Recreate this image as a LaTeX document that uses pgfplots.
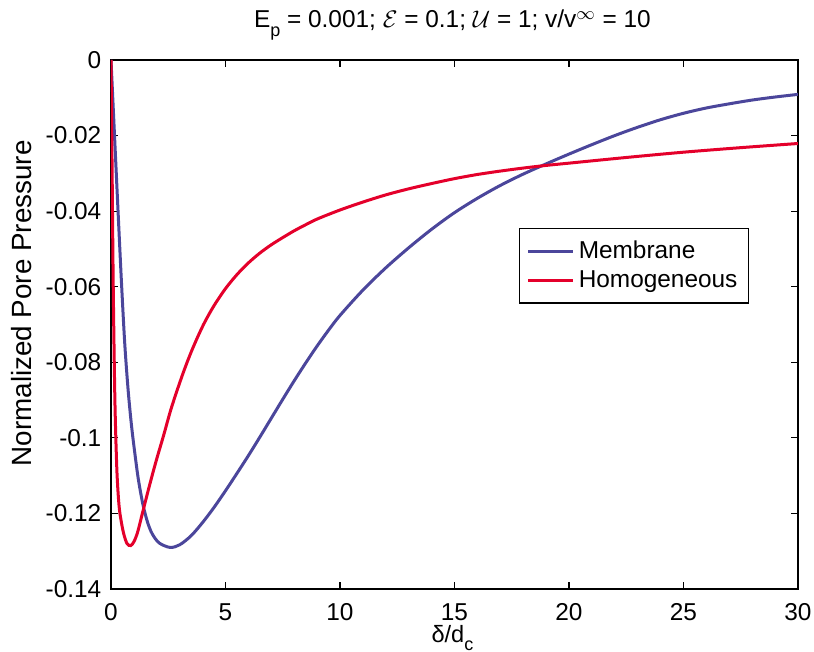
\documentclass[border=0pt]{standalone}
\usepackage{pgfplots}
\pgfplotsset{compat=1.18}
\usepackage{fontspec}
\setmainfont{Liberation Sans}
\definecolor{memb}{RGB}{75,70,155}
\definecolor{homo}{RGB}{228,0,43}
\newcommand{\lowsub}[2]{\raisebox{#1}{\fontsize{9pt}{9pt}\selectfont #2}}
\pgfplotstableread{
x y
0 0
0.15 -0.0195
0.3 -0.039
0.45 -0.058
0.6 -0.075
0.75 -0.0875
0.9 -0.097
1.05 -0.1045
1.2 -0.1112
1.4 -0.1178
1.6 -0.1224
1.8 -0.1254
2.1 -0.1278
2.58 -0.129
3.0 -0.1283
3.5 -0.1259
4.0 -0.1224
4.5 -0.1184
5.0 -0.114
5.5 -0.1094
6.0 -0.1047
6.5 -0.0998
7.0 -0.0948
7.5 -0.0898
8.0 -0.0849
8.5 -0.0802
9.0 -0.0757
9.5 -0.0715
10 -0.0676
11 -0.0609
12 -0.0550
13 -0.0497
14 -0.0448
15 -0.0404
16 -0.0366
17 -0.0332
18 -0.0302
19 -0.0275
20 -0.0249
21 -0.0224
22 -0.0200
23 -0.0178
24 -0.0158
25 -0.0141
26 -0.0127
27 -0.0116
28 -0.0106
29 -0.0098
30 -0.0091
}\membrane
\pgfplotstableread{
x y
0 0
0.05 -0.03
0.1 -0.061
0.17 -0.09
0.25 -0.1075
0.32 -0.1155
0.39 -0.12
0.54 -0.125
0.7 -0.128
0.86 -0.1285
1.0 -0.1275
1.16 -0.125
1.37 -0.12
1.6 -0.1145
1.8 -0.1099
2.0 -0.1055
2.3 -0.0993
2.6 -0.0928
2.9 -0.0872
3.2 -0.082
3.5 -0.0773
3.8 -0.0731
4.1 -0.0693
4.5 -0.0650
5.0 -0.0605
5.5 -0.0568
6.0 -0.0537
6.5 -0.0511
7.0 -0.0489
7.5 -0.0470
8.0 -0.0452
8.5 -0.0436
9 -0.0421
10 -0.0397
11 -0.0376
12 -0.0357
13 -0.0341
14 -0.0327
15 -0.0314
16 -0.0303
17 -0.0294
18 -0.0286
19 -0.0279
20 -0.0273
22.5 -0.0258
25 -0.0244
27.5 -0.0232
30 -0.0221
}\homogeneous
\begin{document}
\begin{tikzpicture}[font=\fontsize{12.2pt}{14.5pt}\selectfont]
\begin{axis}[
  scale only axis,
  width=343.5pt, height=264.5pt,
  xmin=0, xmax=30, ymin=-0.14, ymax=0,
  xtick={0,5,10,15,20,25,30},
  ytick={-0.14,-0.12,-0.1,-0.08,-0.06,-0.04,-0.02,0},
  yticklabels={-0.14,-0.12,-0.1,-0.08,-0.06,-0.04,-0.02,0},
  scaled y ticks=false,
  /pgf/number format/assume math mode=true,
  tick align=inside, tick pos=both,
  major tick length=3.5pt,
  every tick/.style={black, line width=0.6pt},
  axis line style={black, line width=0.8pt},
  xticklabel style={inner sep=0pt, anchor=north, yshift=-7pt},
  yticklabel style={inner sep=0pt, anchor=east, xshift=-4.65pt},
  every axis title shift=0pt,
  title={E\lowsub{-4.5pt}{p} = 0.001; $\mathcal{E}$ = 0.1; $\mathcal{U}$ = 1; v/v$^{\infty}$ = 10},
  title style={at={(axis description cs:0.497,1.0605)}, anchor=base, inner sep=0pt},
  xlabel={δ/d\lowsub{-4pt}{c}},
  xlabel style={at={(axis description cs:0.497,-0.1002)}, anchor=base, inner sep=0pt,
    font=\fontsize{11.8pt}{14pt}\selectfont},
  ylabel={Normalized Pore Pressure},
  ylabel style={at={(axis description cs:-0.1155,0.54)}, anchor=base, inner sep=0pt,
    font=\fontsize{13.9pt}{16pt}\selectfont},
  legend style={at={(axis description cs:0.594,0.683)}, anchor=north west,
    draw=black, line width=0.7pt, fill=white, inner xsep=3.5pt, inner ysep=4.25pt,
    row sep=0.5pt, nodes={inner sep=2pt, anchor=west}},
  legend cell align=left,
  legend image code/.code={\draw[#1] (0pt,0pt) -- (22.5pt,0pt);},
]
\addplot[memb, line width=1.5pt, smooth] table {\membrane};
\addlegendentry{Membrane}
\addplot[homo, line width=1.5pt, smooth] table {\homogeneous};
\addlegendentry{Homogeneous}
\end{axis}
\path ([xshift=-55.5pt,yshift=-31.5pt]current axis.south west) rectangle ([xshift=8pt,yshift=30pt]current axis.north east);
\end{tikzpicture}
\end{document}
